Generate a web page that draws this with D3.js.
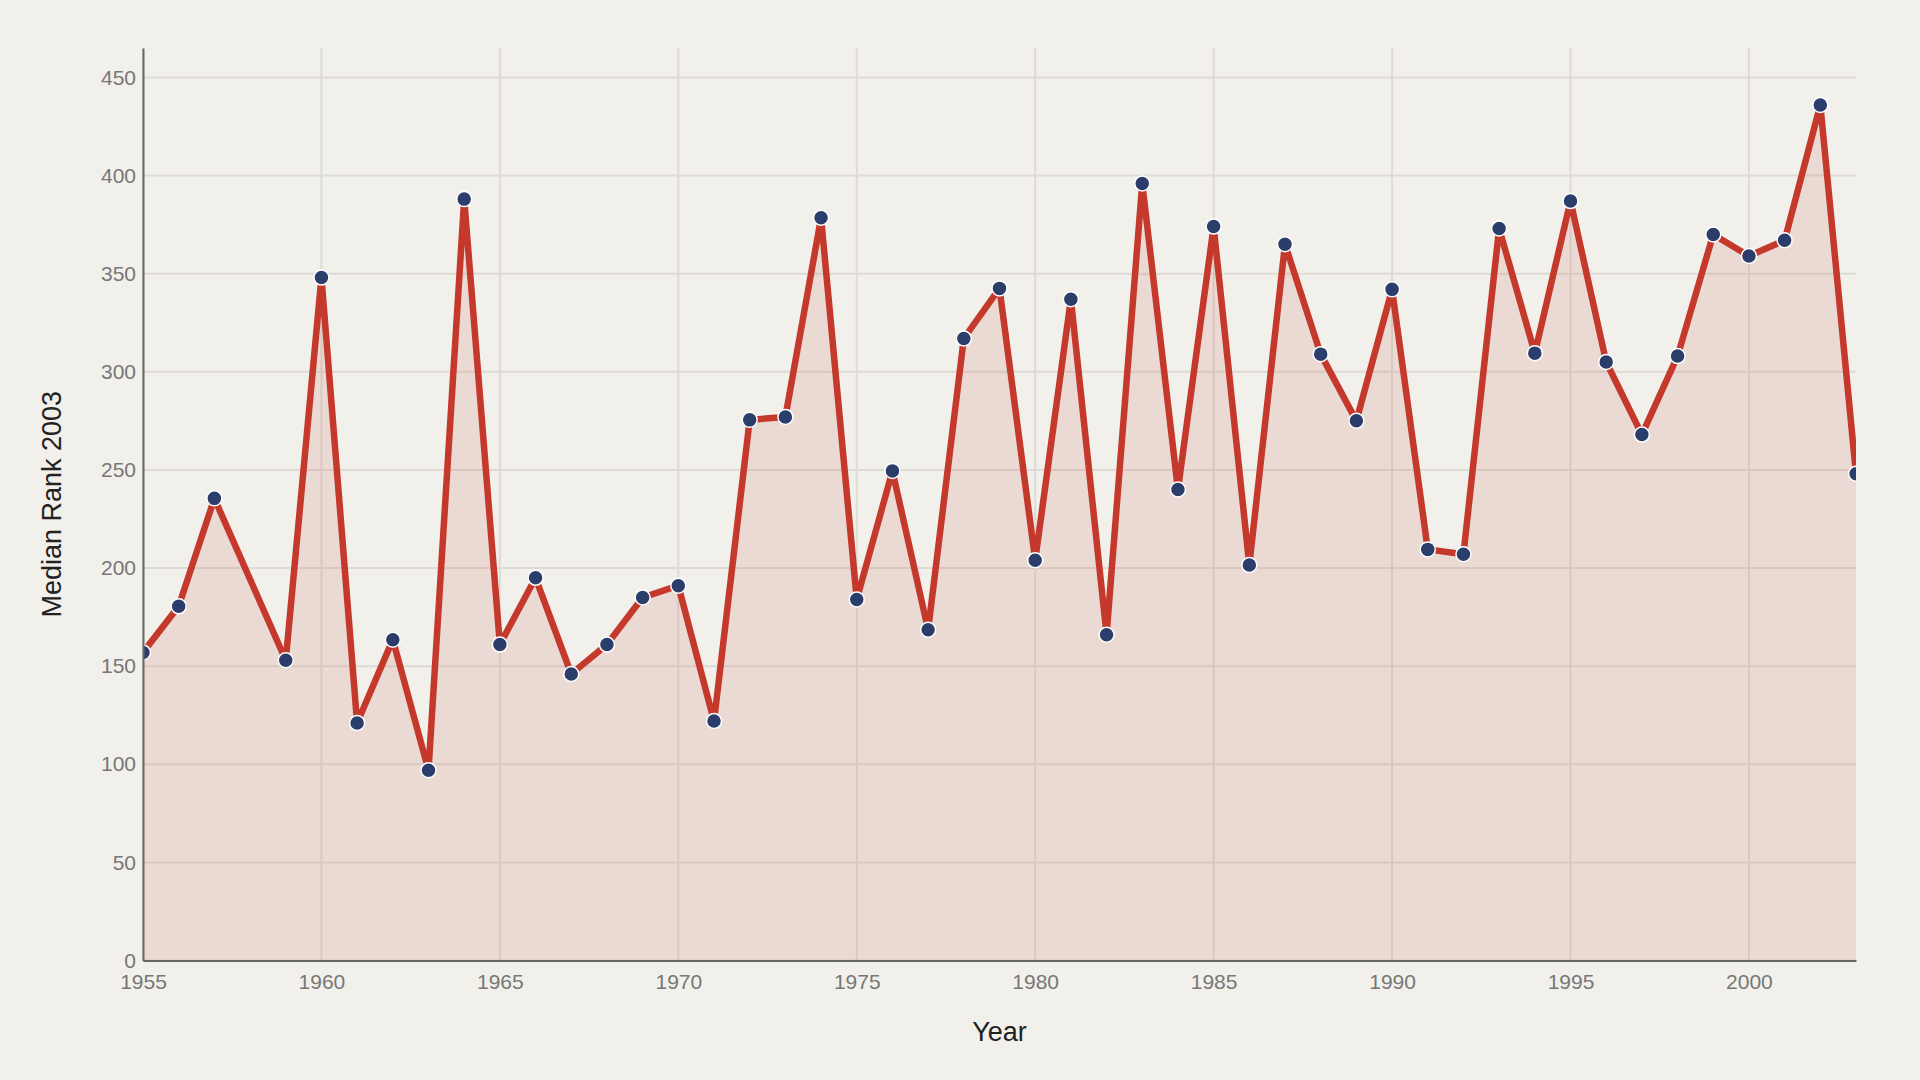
<html>
<head>
<script src="https://cdn.jsdelivr.net/npm/d3@7"></script>
<style type="text/css">
body, html{
  margin:0;
  width:100%;
  height:100%;
  background:#f2f0eb;
}
svg{
  display:block;
  font-family: "Liberation Sans", arial, sans-serif;
}
</style>
</head>
<body>
<svg id='chart' width='1920' height='1080'></svg>
<script>
// median rank per release year (1958 has no entry)
var years = [1955,1956,1957,1959,1960,1961,1962,1963,1964,1965,1966,1967,1968,1969,1970,1971,1972,1973,1974,1975,1976,1977,1978,1979,1980,1981,1982,1983,1984,1985,1986,1987,1988,1989,1990,1991,1992,1993,1994,1995,1996,1997,1998,1999,2000,2001,2002,2003]
var ranks = [157,180.5,235.5,153,348,121,163.5,97,388,161,195,146,161,185,191,122,275.5,277,378.5,184,249.5,168.5,317,342.5,204,337,166,396,240,374,201.5,365,309,275,342,209.5,207,373,309.5,387,305,268,308,370,359,367,436,248]
var xTicks = [1955,1960,1965,1970,1975,1980,1985,1990,1995,2000]
var yTicks = [0,50,100,150,200,250,300,350,400,450]

var W = 1920, H = 1080
var m = {top:48, right:64, bottom:119.5, left:143}
var iw = W-m.left-m.right, ih = H-m.top-m.bottom

var pts = years.map(function(y,i){ return {year:y, rank:ranks[i]} })

var svg = d3.select('#chart')
var x = d3.scaleLinear().domain([1955,2003]).range([0,iw])
var y = d3.scaleLinear().domain([0,465]).range([ih,0])

var g = svg.append('g').attr('transform','translate('+m.left+','+m.top+')')

svg.append('defs').append('clipPath').attr('id','clip')
  .append('rect').attr('width',iw).attr('height',ih)

/*----grid----*/
g.append('g').selectAll('line').data(yTicks).enter().append('line')
  .attr('x1',0).attr('x2',iw)
  .attr('y1',function(d){ return y(d) }).attr('y2',function(d){ return y(d) })
  .attr('stroke','#dedbd5').attr('stroke-width',2)
g.append('g').selectAll('line').data(xTicks).enter().append('line')
  .attr('y1',0).attr('y2',ih)
  .attr('x1',function(d){ return x(d) }).attr('x2',function(d){ return x(d) })
  .attr('stroke','#dedbd5').attr('stroke-width',2)

/*----area, line, dots----*/
var plot = g.append('g').attr('clip-path','url(#clip)')
plot.append('path').datum(pts)
  .attr('fill','#c0392b').attr('fill-opacity',0.12)
  .attr('d', d3.area().x(function(d){ return x(d.year) }).y0(ih).y1(function(d){ return y(d.rank) }))
plot.append('path').datum(pts)
  .attr('fill','none').attr('stroke','#c4392b').attr('stroke-width',6.5).attr('stroke-linejoin','round')
  .attr('d', d3.line().x(function(d){ return x(d.year) }).y(function(d){ return y(d.rank) }))
plot.selectAll('circle').data(pts).enter().append('circle')
  .attr('cx',function(d){ return x(d.year) })
  .attr('cy',function(d){ return y(d.rank) })
  .attr('r',7.5)
  .attr('fill','#2b3d6b').attr('stroke','#ffffff').attr('stroke-width',1.5)

/*----axes----*/
var xa = g.append('g').attr('transform','translate(0,'+ih+')')
  .call(d3.axisBottom(x).tickValues(xTicks).tickFormat(d3.format('d')).tickSize(0).tickPadding(14))
var ya = g.append('g')
  .call(d3.axisLeft(y).tickValues(yTicks).tickSize(0).tickPadding(7))
;[xa,ya].forEach(function(a){
  a.select('.domain').attr('stroke','#666').attr('stroke-width',2)
  a.selectAll('text').attr('fill','#777').attr('font-size','21px').attr('font-family','"Liberation Sans", arial, sans-serif')
})

svg.append('text').attr('x', m.left+iw/2).attr('y',1041)
  .attr('text-anchor','middle').attr('font-size','27px').attr('fill','#222').text('Year')
svg.append('text').attr('transform','translate(61,'+(m.top+ih/2)+') rotate(-90)')
  .attr('text-anchor','middle').attr('font-size','27px').attr('fill','#222').text('Median Rank 2003')
</script>
</body>
</html>
